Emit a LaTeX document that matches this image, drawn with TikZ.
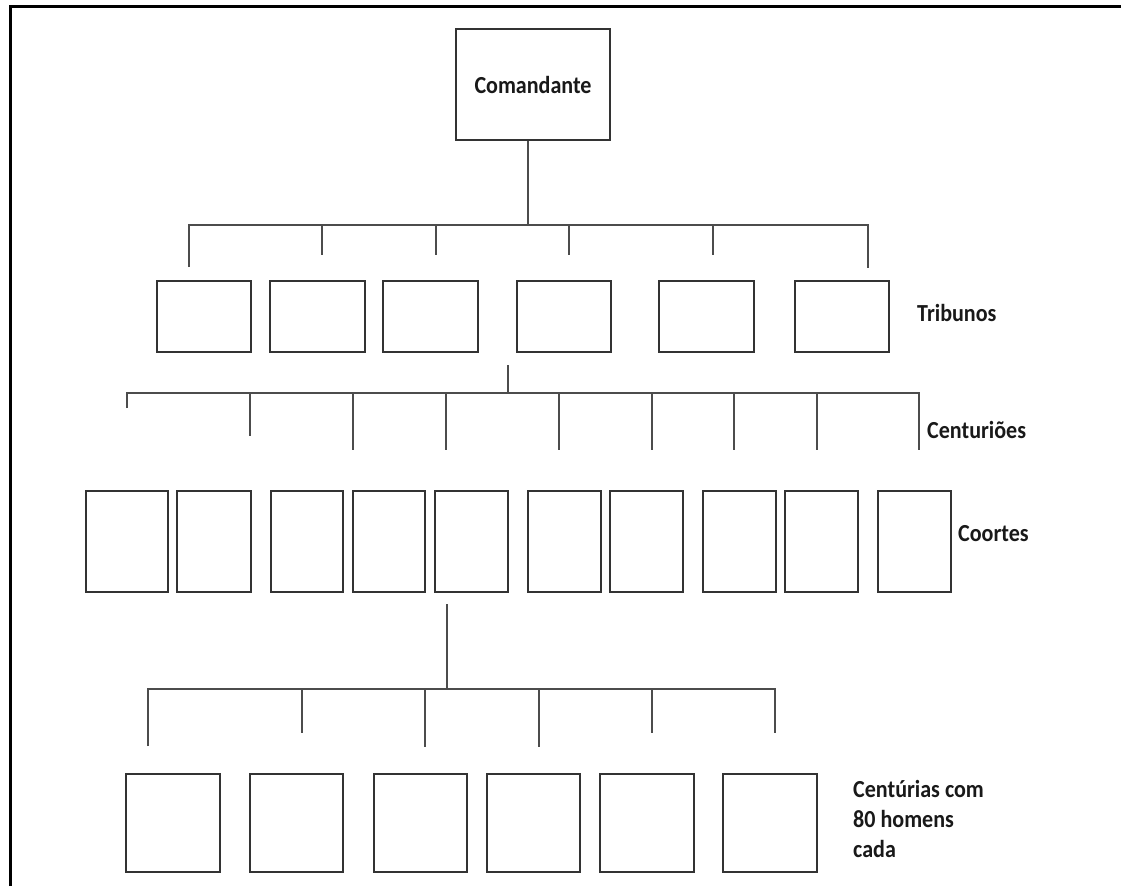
\documentclass[tikz,border=0pt]{standalone}
\usepackage{fontspec}
\newfontfamily\labfont{Carlito}[FakeStretch=0.9]
\begin{document}
\begin{tikzpicture}[x=1pt,y=-1pt,
  box/.style={draw=black!80,line width=2pt,inner sep=0pt,fill=none},
  tree/.style={draw=black!70,line width=2pt},
  frame/.style={draw=black,line width=3pt},
  lab/.style={inner sep=0pt,font=\labfont\bfseries\fontsize{24.5}{30}\selectfont,text=black!90}]
\useasboundingbox (0,0) rectangle (1121,886);
% frame
\coordinate (fa) at (10,886);
\coordinate (fb) at (10,6);
\coordinate (fc) at (1121,6);
\draw[frame] (fa) -- (fb) -- (fc);

% commander
\node[box,lab,minimum width=154pt,minimum height=111pt] (cmd) at (533,84.5) {Comandante};

% tribunos
\node[box,minimum width=94pt,minimum height=71pt] (t1) at (204,316.5) {};
\node[box,minimum width=95pt,minimum height=71pt] (t2) at (317.5,316.5) {};
\node[box,minimum width=95pt,minimum height=71pt] (t3) at (430.5,316.5) {};
\node[box,minimum width=94pt,minimum height=71pt] (t4) at (564,316.5) {};
\node[box,minimum width=95pt,minimum height=71pt] (t5) at (706.5,316.5) {};
\node[box,minimum width=94pt,minimum height=71pt] (t6) at (842,316.5) {};
\node[lab,anchor=base west] (ltrib) at (917,321) {Tribunos};

% level 1 tree
\coordinate (h1) at (528,225);
\coordinate (h1l) at (189,225);
\coordinate (h1r) at (868,225);
\draw[tree] (cmd.south -| h1) -- (h1);
\draw[tree] (189,267) -- (h1l) -- (h1r) -- (868,268);
\foreach \x in {322,436,569,713} \draw[tree] (\x,225) -- (\x,255);

% level 2 tree (centurioes)
\coordinate (h2) at (508,393);
\draw[tree] (508,365) -- (h2);
\draw[tree] (127,408) -- (127,393) -- (919,393) -- (919,450);
\draw[tree] (250,393) -- (250,436);
\foreach \x in {353,446,559,652,734,817} \draw[tree] (\x,393) -- (\x,450);
\node[lab,anchor=base west] (lcent) at (927,438) {Centuriões};

% coortes
\foreach \n/\c/\w in {1/127/82,2/214/74,3/307/72,4/389/72,5/471.5/73,6/564.5/73,7/646.5/73,8/739.5/73,9/821.5/73,10/914.5/73}
  \node[box,minimum width=\w pt,minimum height=101pt] (c\n) at (\c,541.5) {};
\node[lab,anchor=base west] (lcoor) at (958,541) {Coortes};

% level 3 tree
\coordinate (h3) at (447,689);
\draw[tree] (447,604) -- (h3);
\draw[tree] (148,746) -- (148,689) -- (775,689) -- (775,733);
\foreach \x/\e in {302/733,425/747,539/747,652/733} \draw[tree] (\x,689) -- (\x,\e);

% centurias
\foreach \n/\c/\w in {1/173/94,2/296.5/93,3/420.5/93,4/533.5/93,5/647/94,6/770/94}
  \node[box,minimum width=\w pt,minimum height=98pt] (z\n) at (\c,823) {};
\node[lab,anchor=base west,align=left] (lcentu) at (853,857) {Centúrias com\\80 homens\\cada};
\end{tikzpicture}
\end{document}
